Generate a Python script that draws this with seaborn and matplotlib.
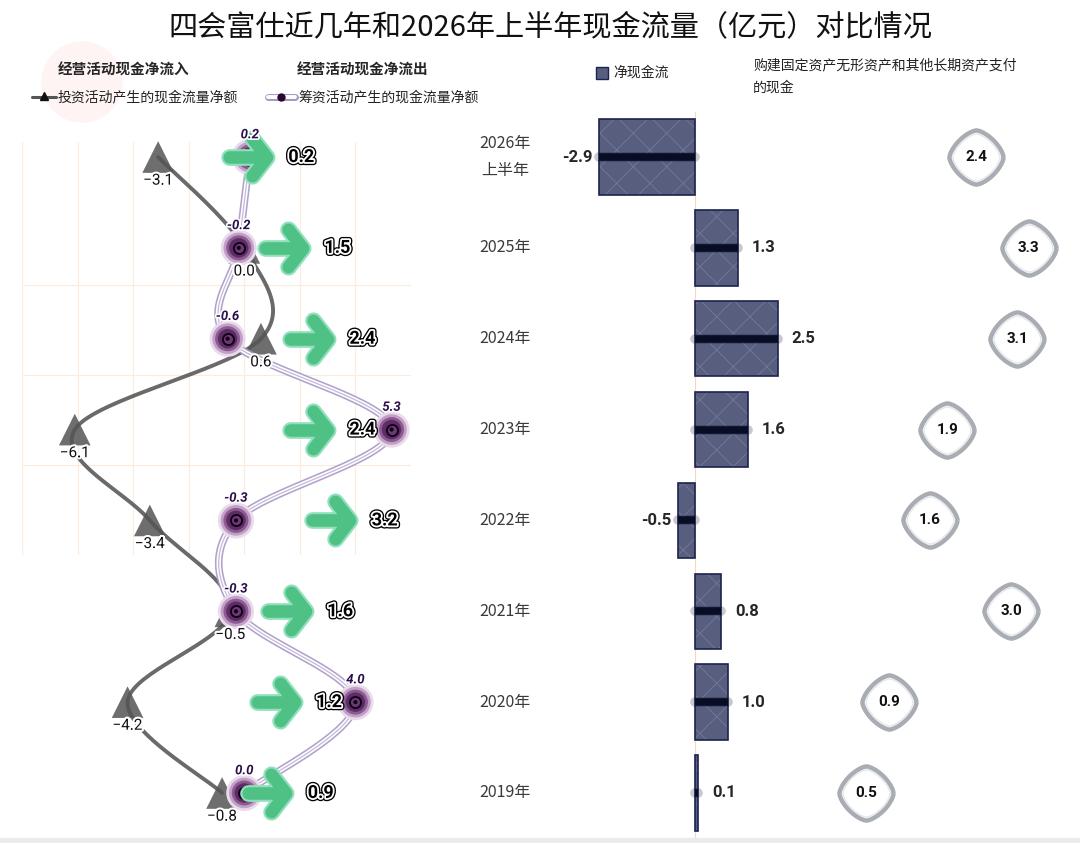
import numpy as np
import pandas as pd
import matplotlib
matplotlib.use('Agg')
import matplotlib.pyplot as plt
import matplotlib.patheffects as pe
import matplotlib.transforms as mtransforms
from matplotlib.path import Path
from matplotlib.markers import MarkerStyle
from matplotlib.patches import Circle, Rectangle
from matplotlib import font_manager
import seaborn as sns

# data (亿元), rows from top (2026H1) to bottom (2019)
years = ['2026年\n上半年', '2025年', '2024年', '2023年', '2022年', '2021年', '2020年', '2019年']
operating = [0.2, 1.5, 2.4, 2.4, 3.2, 1.6, 1.2, 0.9]
investing = [-3.1, 0.0, 0.6, -6.1, -3.4, -0.5, -4.2, -0.8]
financing = [0.2, -0.2, -0.6, 5.3, -0.3, -0.3, 4.0, 0.0]
net_cash = [-2.9, 1.3, 2.5, 1.6, -0.5, 0.8, 1.0, 0.1]
capex = [2.4, 3.3, 3.1, 1.9, 1.6, 3.0, 0.9, 0.5]

TITLE = '四会富仕近几年和2026年上半年现金流量（亿元）对比情况'
CAPEX_LABEL = '购建固定资产无形资产和其他长期资产支付\n的现金'

sns.set_theme(style='white')
available = {f.name for f in font_manager.fontManager.ttflist}
NUM = 'Liberation Sans Narrow' if 'Liberation Sans Narrow' in available else 'Roboto'
plt.rcParams['font.family'] = ['Noto Sans CJK SC', 'DejaVu Sans']
plt.rcParams['hatch.linewidth'] = 0.7

W, H = 1080, 843
fig = plt.figure(figsize=(W / 100, H / 100), dpi=100)
fig.patch.set_facecolor('white')


def px_axes(x0, y0, x1, y1):
    """Axes placed by a pixel box (top-left origin)."""
    a = fig.add_axes([x0 / W, 1 - y1 / H, (x1 - x0) / W, (y1 - y0) / H])
    a.set_facecolor('none')
    return a


def catmull_rom(xs, ys, tension=0.0, steps=40):
    p = np.column_stack([xs, ys]).astype(float)
    p = np.vstack([p[0], p, p[-1]])
    t = np.linspace(0, 1, steps)[:, None]
    h00 = 2 * t**3 - 3 * t**2 + 1
    h10 = t**3 - 2 * t**2 + t
    h01 = -2 * t**3 + 3 * t**2
    h11 = t**3 - t**2
    out = []
    for i in range(1, len(p) - 2):
        m1 = (1 - tension) * (p[i + 1] - p[i - 1]) / 2
        m2 = (1 - tension) * (p[i + 2] - p[i]) / 2
        out.append(h00 * p[i] + h10 * m1 + h01 * p[i + 1] + h11 * m2)
    return np.vstack(out)


rows = np.arange(len(years))
ROW_TOP, ROW_BOT = 111.6, 838.4

# faint background grid behind the flow panel
axg = px_axes(22, 142, 411, 555)
axg.set_xlim(-8, 6)
axg.set_ylim(0, 413 / 90)
axg.set_xticks(range(-8, 7, 2))
axg.set_yticks(range(0, 4))
axg.grid(True, color='#fdebdc', lw=0.8)
axg.tick_params(length=0, labelbottom=False, labelleft=False)
for s in axg.spines.values():
    s.set_visible(False)

# ---- left: investing / financing / operating ----
ax = px_axes(22, ROW_TOP, 411, ROW_BOT)
ax.set_xlim(-8, 6)
ax.set_ylim(len(years) - 0.5, -0.5)

inv_curve = catmull_rom(investing, rows)
sns.scatterplot(x=investing, y=rows, marker='^', s=520, color='#4a4a4a', alpha=0.8,
                edgecolor='none', ax=ax, zorder=2, legend=False, clip_on=False)
ax.plot(inv_curve[:, 0], inv_curve[:, 1], color='#555555', lw=2.8, alpha=0.88,
        solid_capstyle='round', zorder=3, clip_on=False)
for v, r in zip(investing, rows):
    ax.annotate(f'{v:.1f}'.replace('-', '\u2212'), (v, r), xytext=(0, -17),
                textcoords='offset points', ha='center', va='center', fontsize=11,
                family=NUM, color='#111111', zorder=9,
                path_effects=[pe.withStroke(linewidth=3, foreground='white')])

fin_curve = catmull_rom(financing, rows)
ax.plot(fin_curve[:, 0], fin_curve[:, 1], color='#a898c6', lw=5.5, alpha=0.9, zorder=4,
        solid_capstyle='round', clip_on=False)
ax.plot(fin_curve[:, 0], fin_curve[:, 1], color='white', lw=3.2, zorder=4, clip_on=False)
ax.plot(fin_curve[:, 0], fin_curve[:, 1], color='#c4b8da', lw=0.9, zorder=4, clip_on=False)

layers = [(26, '#eadbec', 'none', 0), (22, '#c39fc8', 'none', 0), (18, '#8a5a90', 'none', 0),
          (14, '#5e2c65', 'none', 0), (8, '#6b3a72', '#12021a', 1.4), (3, '#12021a', 'none', 0)]
for size, fc, ec, lw in layers:
    sns.scatterplot(x=financing, y=rows, s=size**2, color=fc, edgecolor=ec, linewidth=lw,
                    ax=ax, zorder=5, legend=False, clip_on=False)
for v, r in zip(financing, rows):
    ax.annotate(f'{v:.1f}', (v, r), xytext=(0, 16), textcoords='offset points',
                ha='center', va='center', fontsize=9.5, family=NUM, style='italic',
                fontweight='bold', color='#2a0f4a', zorder=9,
                path_effects=[pe.withStroke(linewidth=2.5, foreground='white')])

arrow_path = Path([(-1.0, 0.0), (0.75, 0.0), (0.1, 0.9), (0.8, 0.0), (0.1, -0.9)],
                  [Path.MOVETO, Path.LINETO, Path.MOVETO, Path.LINETO, Path.LINETO])
arrow = MarkerStyle(arrow_path, joinstyle='round', capstyle='round')
ax.plot(operating, rows, linestyle='none', marker=arrow, markersize=30,
        markerfacecolor='none', markeredgecolor='#8fe0bb', markeredgewidth=12,
        zorder=6, clip_on=False)
ax.plot(operating, rows, linestyle='none', marker=arrow, markersize=30,
        markerfacecolor='none', markeredgecolor='#48be80', markeredgewidth=9,
        alpha=0.9, zorder=6, clip_on=False)
for v, r in zip(operating, rows):
    ax.annotate(f'{v:.1f}', (v, r), xytext=(37, 0), textcoords='offset points',
                ha='center', va='center', fontsize=13, family=NUM, fontweight='bold',
                color='black', zorder=9,
                path_effects=[pe.Stroke(linewidth=4.5, foreground='black'),
                              pe.Stroke(linewidth=2.6, foreground='white'), pe.Normal()])
ax.axis('off')

# ---- right: net cash flow bars ----
axb = px_axes(560, ROW_TOP, 830, ROW_BOT)
df = pd.DataFrame({'year': years, 'net': net_cash})
sns.barplot(data=df, x='net', y='year', orient='h', width=0.83, color='#575e7e',
            saturation=1, edgecolor='#6f7696', linewidth=0, hatch='x', ax=axb)
for bar in list(axb.patches):
    axb.add_patch(Rectangle(bar.get_xy(), bar.get_width(), bar.get_height(), fill=False,
                            edgecolor='#1b2350', lw=1.2, zorder=3))
axb.set_xlim(-4.09, 4.09)
axb.set_ylim(len(years) - 0.5, -0.5)
axb.axvline(0, color='#f6d8bb', lw=0.8, zorder=0)
axb.hlines(rows, 0, net_cash, color='#050a22', lw=7, alpha=0.22, zorder=4, capstyle='round')
axb.hlines(rows, 0, net_cash, color='#050a22', lw=5.5, alpha=0.95, zorder=4)
for v, r in zip(net_cash, rows):
    if v >= 0:
        axb.annotate(f'{v:.1f}', (v, r), xytext=(10, 0), textcoords='offset points',
                     ha='left', va='center', fontsize=12, family=NUM, fontweight='bold')
    else:
        axb.annotate(f'{v:.1f}', (v, r), xytext=(-5, 0), textcoords='offset points',
                     ha='right', va='center', fontsize=12, family=NUM, fontweight='bold')
axb.axis('off')

# year labels between the panels
ytrans = mtransforms.blended_transform_factory(fig.transFigure, axb.transData)
for name, r in zip(years, rows):
    axb.text(505 / W, r, name, transform=ytrans, ha='center', va='center', fontsize=11.5,
             color='#3a3a3a', linespacing=1.7)

# ---- far right: capex badges ----
axc = px_axes(830, ROW_TOP, 1075, ROW_BOT)
axc.set_xlim(-0.12, 4.1)
axc.set_ylim(len(years) - 0.5, -0.5)
th = np.linspace(0, 2 * np.pi, 120)
n_exp = 1.5
badge = Path(np.column_stack([np.sign(np.cos(th)) * np.abs(np.cos(th)) ** (2 / n_exp),
                              np.sign(np.sin(th)) * np.abs(np.sin(th)) ** (2 / n_exp)]))
axc.plot(capex, rows, linestyle='none', marker=badge, markersize=39, markerfacecolor='white',
         markeredgecolor='#a9adb3', markeredgewidth=3.2, zorder=3, clip_on=False)
axc.plot(capex, rows, linestyle='none', marker=badge, markersize=34, markerfacecolor='none',
         markeredgecolor='#e3e7ec', markeredgewidth=1, zorder=3, clip_on=False)
for v, r in zip(capex, rows):
    axc.text(v, r, f'{v:.1f}', ha='center', va='center', fontsize=11, family=NUM,
             fontweight='bold', color='#111111', zorder=4)
axc.axis('off')

# ---- overlay: title and legend ----
axo = fig.add_axes([0, 0, 1, 1], zorder=10)
axo.set_xlim(0, W)
axo.set_ylim(H, 0)
axo.axis('off')
axo.add_patch(Circle((82, 82), 40, color='#fef4f3', zorder=0))
axo.add_patch(Rectangle((0, 838), W, 5, color='#ececec', zorder=0))
axo.text(550, 27, TITLE, ha='center', va='center', fontsize=21, color='#111111')

axo.text(58, 70, '经营活动现金净流入', ha='left', va='center', fontsize=10.5, fontweight='bold')
axo.text(297, 70, '经营活动现金净流出', ha='left', va='center', fontsize=10.5, fontweight='bold')
axo.plot([32, 56], [97, 97], color='#555555', lw=2.2)
axo.plot([44], [96], marker='^', ms=6, color='#111111')
axo.text(58, 97, '投资活动产生的现金流量净额', ha='left', va='center', fontsize=10, color='#222222')
axo.plot([268, 295], [97, 97], color='#a898c6', lw=5, solid_capstyle='round')
axo.plot([268, 295], [97, 97], color='white', lw=2.8)
axo.plot([281], [97], marker='o', ms=5, color='#2a0630')
axo.text(298, 97, '筹资活动产生的现金流量净额', ha='left', va='center', fontsize=10, color='#222222')
axo.plot([602], [73], marker='s', ms=8, markerfacecolor='#575e7e', markeredgecolor='#1b2350')
axo.text(613, 73, '净现金流', ha='left', va='center', fontsize=10, color='#222222')
axo.text(753, 58, CAPEX_LABEL, ha='left', va='top', fontsize=10, color='#222222', linespacing=1.75)

fig.savefig('out.png', dpi=100)
